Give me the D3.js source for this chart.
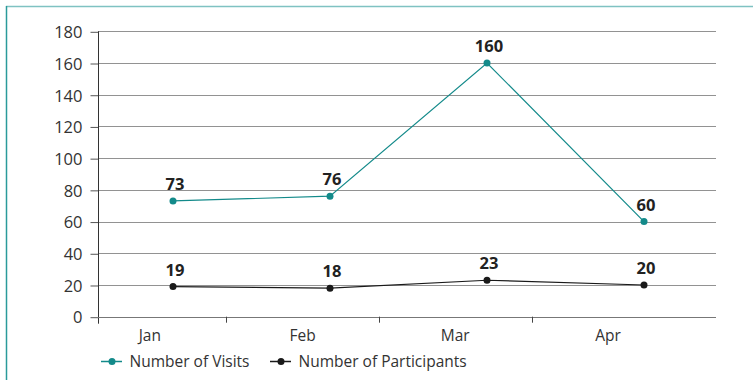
<!DOCTYPE html>
<html><head><meta charset="utf-8">
<script src="https://cdn.jsdelivr.net/npm/d3@7"></script>
<style>body{margin:0;background:#fff;}svg{display:block;}text{font-family:"Open Sans",Arial,sans-serif;}</style>
</head><body>
<script>
const months = ["Jan", "Feb", "Mar", "Apr"];
const visits = [73, 76, 160, 60];
const participants = [19, 18, 23, 20];
const yTicks = [0, 20, 40, 60, 80, 100, 120, 140, 160, 180];
const seriesNames = ["Number of Visits", "Number of Participants"];

const W = 753, H = 380;
const teal = "#138a8a", dark = "#1a1a1a";
const FS = 15.5, FSN = 16.5;
const svg = d3.select("body").append("svg").attr("width", W).attr("height", H);

// frame
svg.append("line").attr("x1", 6).attr("x2", W).attr("y1", 6.5).attr("y2", 6.5).attr("stroke", "#7fc2c2").attr("stroke-width", 1.5);
svg.append("line").attr("x1", 6.5).attr("x2", 6.5).attr("y1", 6).attr("y2", H).attr("stroke", "#2a9a9a").attr("stroke-width", 1.5);

const plotL = 98, plotR = 716, yTop = 31.3, yBot = 316.7;
const y = d3.scaleLinear().domain([0, 180]).range([yBot, yTop]);
const xBand = d3.scaleBand().domain(months).range([73.5, 684.3]);
const xPt = d3.scalePoint().domain(months).range([173, 644]);

// gridlines
svg.append("g").selectAll("line").data(yTicks).join("line")
  .attr("x1", plotL).attr("x2", plotR)
  .attr("y1", d => Math.round(y(d)) + 0.5).attr("y2", d => Math.round(y(d)) + 0.5)
  .attr("stroke", "#929292").attr("stroke-width", 1);

// y axis
const yAxis = d3.axisLeft(y).tickValues(yTicks).tickSize(8).tickPadding(8);
const gy = svg.append("g").attr("transform", `translate(${plotL + 0.5},0.5)`).call(yAxis)
  .attr("font-family", null).attr("font-size", null);
gy.select(".domain").remove();
gy.selectAll(".tick line").attr("stroke", "#555");
gy.selectAll(".tick text").attr("font-size", FSN).attr("fill", "#333").attr("dy", "0.35em");
svg.append("line").attr("x1", plotL + 0.5).attr("x2", plotL + 0.5).attr("y1", yTop).attr("y2", yBot + 7).attr("stroke", "#333").attr("stroke-width", 1);

// x axis
svg.append("line").attr("x1", plotL).attr("x2", plotR).attr("y1", Math.round(yBot) + 0.5).attr("y2", Math.round(yBot) + 0.5).attr("stroke", "#777");
svg.append("g").selectAll("line").data(months.slice(1)).join("line")
  .attr("x1", d => Math.round(xBand(d)) + 0.5).attr("x2", d => Math.round(xBand(d)) + 0.5)
  .attr("y1", yBot).attr("y2", yBot + 6).attr("stroke", "#444");
svg.append("g").selectAll("text").data(months).join("text")
  .attr("x", d => xBand(d) + xBand.bandwidth() / 2).attr("y", 341)
  .attr("text-anchor", "middle").attr("font-size", FS).attr("fill", "#333").text(d => d);

// series
function drawSeries(vals, color) {
  const line = d3.line().x((d, i) => xPt(months[i])).y(d => y(d));
  svg.append("path").datum(vals).attr("d", line).attr("fill", "none").attr("stroke", color).attr("stroke-width", 1.2);
  svg.append("g").selectAll("circle").data(vals).join("circle")
    .attr("cx", (d, i) => xPt(months[i])).attr("cy", d => y(d)).attr("r", 3.5).attr("fill", color);
  svg.append("g").selectAll("text").data(vals).join("text")
    .attr("x", (d, i) => xPt(months[i]) + 2).attr("y", d => y(d) - 11)
    .attr("text-anchor", "middle").attr("font-size", FSN).attr("font-weight", "bold").attr("fill", "#222").text(d => d);
}
drawSeries(visits, teal);
drawSeries(participants, dark);

// legend
const legend = [{name: seriesNames[0], color: teal, x: 101}, {name: seriesNames[1], color: dark, x: 270}];
const lg = svg.append("g").selectAll("g").data(legend).join("g").attr("transform", d => `translate(${d.x},361.5)`);
lg.append("line").attr("x1", 0).attr("x2", 21).attr("stroke", d => d.color).attr("stroke-width", 1.5);
lg.append("circle").attr("cx", 11).attr("r", 3.5).attr("fill", d => d.color);
lg.append("text").attr("x", 28.5).attr("y", 5.5).attr("font-size", FS).attr("fill", "#333").text(d => d.name);
</script>
</body></html>
